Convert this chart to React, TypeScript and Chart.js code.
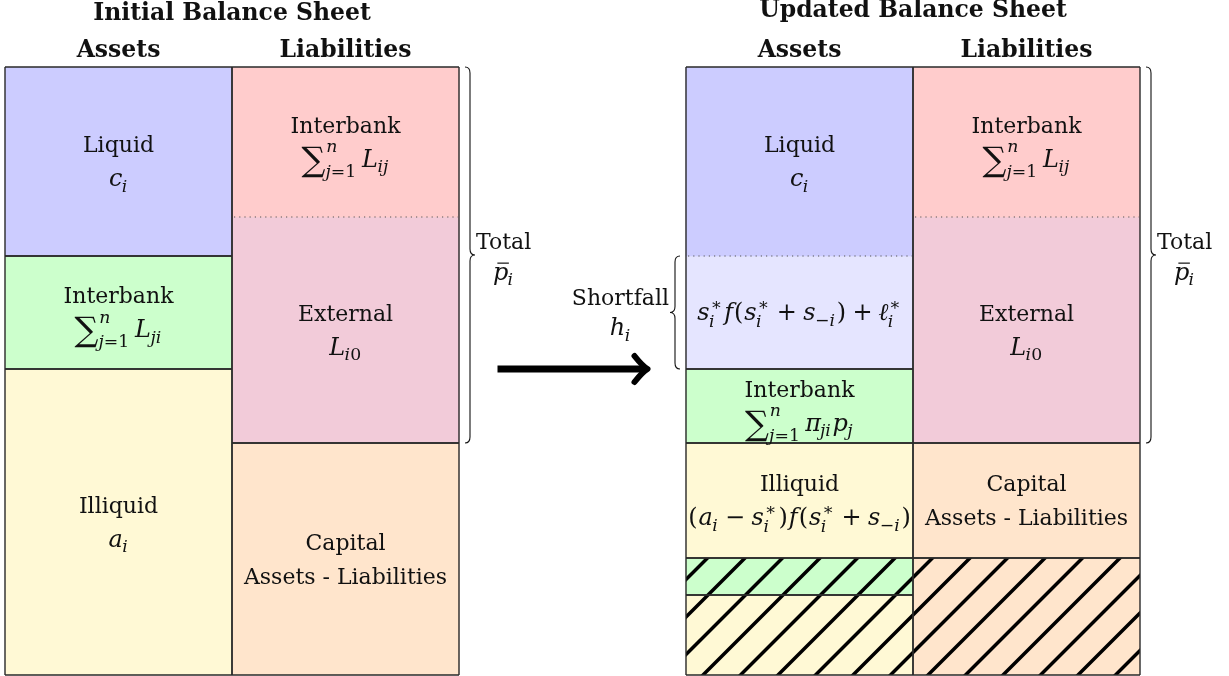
import { useEffect, useRef } from 'react';
import { Chart, registerables } from 'chart.js';

Chart.register(...registerables);

// ---------- data ----------
const columns = ['Initial assets', 'Initial liabilities', 'Adjustment', 'Updated assets', 'Updated liabilities'];
const columnHeaders = ['Assets', 'Liabilities', '', 'Assets', 'Liabilities'];
const sheetTitles = ['Initial Balance Sheet', 'Updated Balance Sheet'];

// segment sizes, top to bottom
const initialAssetValues = [189, 113, 306];
const initialLiabilityValues = [150, 226, 232];
const updatedAssetValues = [189, 113, 74, 115, 37, 80];
const updatedLiabilityValues = [150, 226, 115, 117];
const balanceTotal = 608;

const initialAssetLabels = [['Liquid', '$c_i'], ['Interbank', '$\\sum_{j=1}^{n}\\,L_{ji}'], ['Illiquid', '$a_i']];
const initialLiabilityLabels = [['Interbank', '$\\sum_{j=1}^{n}\\,L_{ij}'], ['External', '$L_{i0}'], ['Capital', 'Assets - Liabilities']];
const updatedAssetLabels = [
  ['Liquid', '$c_i'],
  ['$s_i^*f(s_i^*+s_{-i})+\\ell_i^*'],
  ['Interbank', '$\\sum_{j=1}^{n}\\,\\pi_{ji}p_j'],
  ['Illiquid', '$(a_i-s_i^*)f(s_i^*+s_{-i})'],
  [],
  [],
];
const updatedLiabilityLabels = [['Interbank', '$\\sum_{j=1}^{n}\\,L_{ij}'], ['External', '$L_{i0}'], ['Capital', 'Assets - Liabilities'], []];

const totalLabel = ['Total', '$\\bar{p}_i'];
const shortfallLabel = ['Shortfall', '$h_i'];

// ---------- styles ----------
const initialAssetColors = ['#ccccff', '#ccffcc', '#fff9d5'];
const initialLiabilityColors = ['#ffcccc', '#f2cbd9', '#ffe5cc'];
const updatedAssetColors = ['#ccccff', '#e5e5ff', '#ccffcc', '#fff9d5', '#ccffcc', '#fff9d5'];
const updatedLiabilityColors = ['#ffcccc', '#f2cbd9', '#ffe5cc', '#ffe5cc'];
const initialAssetHatch = [false, false, false];
const initialLiabilityHatch = [false, false, false];
const updatedAssetHatch = [false, false, false, false, true, true];
const updatedLiabilityHatch = [false, false, false, true];
const initialAssetDotted = [false, false, false];
const initialLiabilityDotted = [false, true, false];
const updatedAssetDotted = [false, true, false, false, false, false];
const updatedLiabilityDotted = [false, true, false, false];

const FONT = '"DejaVu Serif", "Liberation Serif", serif';
const LABEL_SIZE = 22;
const MATH_SCALE = 1.09;
const HEAD_SIZE = 23.5;
const HATCH_SPACING = 37.5;
const HATCH_PHASE = 28;

type Seg = { col: number; start: number; end: number; color: string; hatch: boolean; dotted: boolean; label: string[] };

function buildColumn(col: number, values: number[], colors: string[], labels: string[][], hatch: boolean[], dotted: boolean[]): Seg[] {
  let acc = 0;
  return values.map((v, i) => {
    const s = { col, start: acc, end: acc + v, color: colors[i], hatch: hatch[i], dotted: dotted[i], label: labels[i] };
    acc += v;
    return s;
  });
}

// ---------- tiny math text renderer ----------
type Run = { t: string; it: boolean };
type Atom =
  | { kind: 'run'; t: string; it: boolean; pad: number; bar?: boolean; big?: boolean }
  | { kind: 'script'; sub: Run[] | null; sup: Run[] | null; afterBig: boolean; afterIt: boolean }
  | { kind: 'space'; w: number };

const isLetter = (ch: string) => /[A-Za-z]/.test(ch);

function scriptRuns(g: string): Run[] {
  const out: Run[] = [];
  let i = 0;
  while (i < g.length) {
    const ch = g[i];
    if (ch === '\\') {
      let j = i + 1;
      while (j < g.length && isLetter(g[j])) j++;
      const name = g.slice(i + 1, j);
      i = j;
      if (name === 'pi') out.push({ t: 'π', it: true });
      else if (name === 'ell') out.push({ t: 'ℓ', it: true });
      continue;
    }
    i++;
    if (ch === ' ') continue;
    if (isLetter(ch)) out.push({ t: ch, it: true });
    else if (ch === '-') out.push({ t: '−', it: false });
    else if (ch === '*') out.push({ t: '∗', it: false });
    else out.push({ t: ch, it: false });
  }
  return out;
}

function parseMath(src: string): Atom[] {
  const atoms: Atom[] = [];
  let i = 0;
  const readGroup = (): string => {
    if (src[i] === '{') {
      let depth = 1;
      let j = i + 1;
      while (j < src.length && depth) {
        if (src[j] === '{') depth++;
        else if (src[j] === '}') depth--;
        j++;
      }
      const g = src.slice(i + 1, j - 1);
      i = j;
      return g;
    }
    if (src[i] === '\\') {
      let j = i + 1;
      while (j < src.length && isLetter(src[j])) j++;
      const g = src.slice(i, j);
      i = j;
      return g;
    }
    const g = src[i];
    i++;
    return g;
  };
  while (i < src.length) {
    const ch = src[i];
    if (ch === '_' || ch === '^') {
      i++;
      const runs = scriptRuns(readGroup());
      let last = atoms[atoms.length - 1] as Atom | undefined;
      if (!last || last.kind !== 'script' || (ch === '_' ? last.sub : last.sup)) {
        const prev = atoms[atoms.length - 1];
        const s: Atom = {
          kind: 'script',
          sub: null,
          sup: null,
          afterBig: !!(prev && prev.kind === 'run' && prev.big),
          afterIt: !!(prev && prev.kind === 'run' && prev.it),
        };
        atoms.push(s);
        last = s;
      }
      if (last.kind === 'script') {
        if (ch === '_') last.sub = runs;
        else last.sup = runs;
      }
      continue;
    }
    if (ch === '\\') {
      if (src[i + 1] === ',') {
        atoms.push({ kind: 'space', w: 0.17 });
        i += 2;
        continue;
      }
      let j = i + 1;
      while (j < src.length && isLetter(src[j])) j++;
      const name = src.slice(i + 1, j);
      i = j;
      if (name === 'sum') atoms.push({ kind: 'run', t: '∑', it: false, pad: 0, big: true });
      else if (name === 'ell') atoms.push({ kind: 'run', t: 'ℓ', it: true, pad: 0 });
      else if (name === 'pi') atoms.push({ kind: 'run', t: 'π', it: true, pad: 0 });
      else if (name === 'bar') {
        const g = readGroup();
        atoms.push({ kind: 'run', t: g, it: true, pad: 0, bar: true });
      }
      continue;
    }
    i++;
    if (ch === ' ') continue;
    if (isLetter(ch)) atoms.push({ kind: 'run', t: ch, it: true, pad: 0.02 });
    else if (ch === '+') atoms.push({ kind: 'run', t: '+', it: false, pad: 0.25 });
    else if (ch === '-') atoms.push({ kind: 'run', t: '−', it: false, pad: 0.25 });
    else if (ch === '=') atoms.push({ kind: 'run', t: '=', it: false, pad: 0.28 });
    else atoms.push({ kind: 'run', t: ch, it: false, pad: 0.02 });
  }
  return atoms;
}

const font = (size: number, it: boolean, bold = false) => `${it ? 'italic ' : ''}${bold ? 'bold ' : ''}${size}px ${FONT}`;

function runsWidth(ctx: CanvasRenderingContext2D, runs: Run[], size: number) {
  let w = 0;
  for (const r of runs) {
    ctx.font = font(size, r.it);
    w += ctx.measureText(r.t).width;
  }
  return w;
}

function drawRuns(ctx: CanvasRenderingContext2D, runs: Run[], x: number, y: number, size: number) {
  for (const r of runs) {
    ctx.font = font(size, r.it);
    ctx.fillText(r.t, x, y);
    x += ctx.measureText(r.t).width;
  }
}

function layoutMath(ctx: CanvasRenderingContext2D, atoms: Atom[], size: number, x0: number, baseline: number, draw: boolean) {
  let x = x0;
  for (const a of atoms) {
    if (a.kind === 'space') {
      x += a.w * size;
      continue;
    }
    if (a.kind === 'run') {
      const sz = a.big ? size * 1.4 : size;
      ctx.font = font(sz, a.it);
      const w = ctx.measureText(a.t).width;
      x += a.pad * size;
      if (draw) {
        ctx.fillText(a.t, x, baseline + (a.big ? 0.16 * size : 0));
        if (a.bar) {
          ctx.save();
          ctx.strokeStyle = '#111';
          ctx.lineWidth = 1.2;
          ctx.beginPath();
          ctx.moveTo(x + 0.18 * size, baseline - 0.7 * size);
          ctx.lineTo(x + w + 0.02 * size, baseline - 0.7 * size);
          ctx.stroke();
          ctx.restore();
        }
      }
      x += w + a.pad * size;
      continue;
    }
    const ss = size * 0.72;
    const kernSub = a.afterIt ? -0.04 * size : 0;
    const subDy = a.afterBig ? 0.42 * size : a.sup ? 0.28 * size : 0.22 * size;
    const supDy = a.afterBig ? -0.62 * size : -0.42 * size;
    const ws = a.sub ? runsWidth(ctx, a.sub, ss) : 0;
    const wp = a.sup ? runsWidth(ctx, a.sup, ss) : 0;
    if (draw) {
      if (a.sub) drawRuns(ctx, a.sub, x + kernSub, baseline + subDy, ss);
      if (a.sup) drawRuns(ctx, a.sup, x + 0.03 * size, baseline + supDy, ss);
    }
    x += Math.max(ws + kernSub, wp + 0.03 * size) + 0.05 * size;
  }
  return x - x0;
}

function lineWidthOf(ctx: CanvasRenderingContext2D, line: string, size: number) {
  if (line.startsWith('$')) return layoutMath(ctx, parseMath(line.slice(1)), size * MATH_SCALE, 0, 0, false);
  ctx.font = font(size, false);
  return ctx.measureText(line).width;
}

function drawLine(ctx: CanvasRenderingContext2D, line: string, cx: number, cy: number, size: number) {
  ctx.fillStyle = '#111';
  ctx.textAlign = 'left';
  ctx.textBaseline = 'alphabetic';
  const baseline = cy + 0.36 * size;
  const w = lineWidthOf(ctx, line, size);
  if (line.startsWith('$')) layoutMath(ctx, parseMath(line.slice(1)), size * MATH_SCALE, cx - w / 2, baseline, true);
  else {
    ctx.font = font(size, false);
    ctx.fillText(line, cx - w / 2, baseline);
  }
}

function drawBlock(ctx: CanvasRenderingContext2D, lines: string[], cx: number, cy: number, size: number, gap: number) {
  const n = lines.length;
  lines.forEach((l, k) => drawLine(ctx, l, cx, cy + (k - (n - 1) / 2) * gap, size));
}

function brace(ctx: CanvasRenderingContext2D, x0: number, y1: number, y2: number, dir: number) {
  const ym = (y1 + y2) / 2;
  const a = 5 * dir;
  ctx.beginPath();
  ctx.moveTo(x0, y1);
  ctx.quadraticCurveTo(x0 + a, y1, x0 + a, y1 + 6);
  ctx.lineTo(x0 + a, ym - 6);
  ctx.quadraticCurveTo(x0 + a, ym, x0 + 2 * a, ym);
  ctx.quadraticCurveTo(x0 + a, ym, x0 + a, ym + 6);
  ctx.lineTo(x0 + a, y2 - 6);
  ctx.quadraticCurveTo(x0 + a, y2, x0, y2);
  ctx.stroke();
}

function hatchRect(ctx: CanvasRenderingContext2D, l: number, t: number, r: number, b: number) {
  ctx.save();
  ctx.beginPath();
  ctx.rect(l, t, r - l, b - t);
  ctx.clip();
  ctx.strokeStyle = '#000';
  ctx.lineWidth = 3.5;
  ctx.beginPath();
  const kMin = Math.floor((l + t - HATCH_PHASE) / HATCH_SPACING) - 1;
  const kMax = Math.ceil((r + b - HATCH_PHASE) / HATCH_SPACING) + 1;
  for (let k = kMin; k <= kMax; k++) {
    const s = HATCH_PHASE + k * HATCH_SPACING; // x + y = s
    ctx.moveTo(l - 10, s - (l - 10));
    ctx.lineTo(r + 10, s - (r + 10));
  }
  ctx.stroke();
  ctx.restore();
}

export default function App() {
  const ref = useRef<HTMLCanvasElement>(null);

  useEffect(() => {
    document.body.style.margin = '0';
    const canvas = ref.current!;

    const segs: Seg[] = [
      ...buildColumn(0, initialAssetValues, initialAssetColors, initialAssetLabels, initialAssetHatch, initialAssetDotted),
      ...buildColumn(1, initialLiabilityValues, initialLiabilityColors, initialLiabilityLabels, initialLiabilityHatch, initialLiabilityDotted),
      ...buildColumn(3, updatedAssetValues, updatedAssetColors, updatedAssetLabels, updatedAssetHatch, updatedAssetDotted),
      ...buildColumn(4, updatedLiabilityValues, updatedLiabilityColors, updatedLiabilityLabels, updatedLiabilityHatch, updatedLiabilityDotted),
    ];

    const datasets = segs.map((s, i) => ({
      label: `segment ${i}`,
      data: columns.map((_, c) => (c === s.col ? [s.start, s.end] : null)),
      backgroundColor: s.color,
      borderWidth: 0,
      grouped: false,
      barPercentage: 1,
      categoryPercentage: 1,
    }));

    const overlay = {
      id: 'balanceOverlay',
      afterDatasetsDraw(chart: any) {
        const c: CanvasRenderingContext2D = chart.ctx;
        const xs = chart.scales.x;
        const ys = chart.scales.y;
        const rects = segs.map((s, i) => {
          const el = chart.getDatasetMeta(i).data[s.col];
          const p = el.getProps(['x', 'y', 'base', 'width'], true);
          return { l: p.x - p.width / 2, r: p.x + p.width / 2, t: Math.min(p.y, p.base), b: Math.max(p.y, p.base) };
        });
        c.save();
        // hatching
        segs.forEach((s, i) => {
          if (!s.hatch) return;
          const R = rects[i];
          hatchRect(c, R.l, R.t, R.r, R.b);
        });
        // outlines
        c.strokeStyle = '#2a2a2a';
        c.lineWidth = 1.4;
        segs.forEach((s, i) => {
          const R = rects[i];
          const next = segs[i + 1];
          const nextDotted = next && next.col === s.col && next.dotted;
          c.beginPath();
          c.moveTo(R.l, R.t);
          c.lineTo(R.l, R.b);
          c.moveTo(R.r, R.t);
          c.lineTo(R.r, R.b);
          if (!s.dotted) {
            c.moveTo(R.l, R.t);
            c.lineTo(R.r, R.t);
          }
          if (!nextDotted) {
            c.moveTo(R.l, R.b);
            c.lineTo(R.r, R.b);
          }
          c.stroke();
        });
        // dotted separators
        c.setLineDash([1.2, 4]);
        c.strokeStyle = '#555';
        c.lineWidth = 1.1;
        segs.forEach((s, i) => {
          if (!s.dotted) return;
          const R = rects[i];
          c.beginPath();
          c.moveTo(R.l + 2, R.t);
          c.lineTo(R.r - 1, R.t);
          c.stroke();
        });
        c.setLineDash([]);

        // segment labels
        segs.forEach((s, i) => {
          if (!s.label.length) return;
          const R = rects[i];
          drawBlock(c, s.label, (R.l + R.r) / 2, (R.t + R.b) / 2, LABEL_SIZE, 34);
        });

        // headings
        const colW = xs.width / columns.length;
        c.fillStyle = '#111';
        c.textAlign = 'center';
        c.textBaseline = 'alphabetic';
        c.font = font(HEAD_SIZE, false, true);
        columnHeaders.forEach((h, k) => {
          if (!h) return;
          c.fillText(h, xs.getPixelForValue(k), ys.top - 10);
        });
        c.fillText(sheetTitles[0], (xs.getPixelForValue(0) + xs.getPixelForValue(1)) / 2, ys.top - 47);
        c.fillText(sheetTitles[1], (xs.getPixelForValue(3) + xs.getPixelForValue(4)) / 2, ys.top - 50);

        // braces for total liabilities
        c.strokeStyle = '#111';
        c.lineWidth = 1.1;
        const liabTopValue = 0;
        const liabBottomValue = initialLiabilityValues[0] + initialLiabilityValues[1];
        const y1 = ys.getPixelForValue(liabTopValue);
        const y2 = ys.getPixelForValue(liabBottomValue);
        const ymid = (y1 + y2) / 2;
        [1, 4].forEach((col) => {
          const xr = xs.getPixelForValue(col) + colW / 2;
          const x0 = xr + 6;
          brace(c, x0, y1, y2, 1);
          const w = Math.max(...totalLabel.map((l) => lineWidthOf(c, l, LABEL_SIZE)));
          const cx = x0 + 11 + w / 2;
          drawLine(c, totalLabel[0], cx, ymid - 14, LABEL_SIZE);
          drawLine(c, totalLabel[1], cx, ymid + 17, LABEL_SIZE);
        });

        // shortfall brace
        const sf1 = ys.getPixelForValue(updatedAssetValues[0]);
        const sf2 = ys.getPixelForValue(updatedAssetValues[0] + updatedAssetValues[1]);
        const sfm = (sf1 + sf2) / 2;
        const xl = xs.getPixelForValue(3) - colW / 2;
        c.strokeStyle = '#111';
        c.lineWidth = 1.1;
        brace(c, xl - 6, sf1, sf2, -1);
        const ws = Math.max(...shortfallLabel.map((l) => lineWidthOf(c, l, LABEL_SIZE)));
        const scx = xl - 6 - 11 - ws / 2;
        drawLine(c, shortfallLabel[0], scx, sfm - 15, LABEL_SIZE);
        drawLine(c, shortfallLabel[1], scx, sfm + 15, LABEL_SIZE);

        // arrow
        const ay = ys.getPixelForValue(initialAssetValues[0] + initialAssetValues[1]);
        const acx = xs.getPixelForValue(2);
        const ax1 = acx - 75;
        const ax2 = acx + 75;
        c.strokeStyle = '#000';
        c.lineWidth = 7;
        c.lineCap = 'butt';
        c.beginPath();
        c.moveTo(ax1, ay);
        c.lineTo(ax2 - 3, ay);
        c.stroke();
        c.lineCap = 'round';
        c.lineJoin = 'round';
        c.lineWidth = 6;
        c.beginPath();
        c.moveTo(ax2 - 13, ay - 13);
        c.quadraticCurveTo(ax2 - 5, ay - 3, ax2, ay);
        c.quadraticCurveTo(ax2 - 5, ay + 3, ax2 - 13, ay + 13);
        c.stroke();
        c.restore();
      },
    };

    const chart = new Chart(canvas, {
      type: 'bar',
      data: { labels: columns, datasets: datasets as any },
      options: {
        animation: false,
        responsive: false,
        devicePixelRatio: 1,
        layout: { padding: { left: 5, right: 89, top: 67, bottom: 1 } },
        plugins: { legend: { display: false }, tooltip: { enabled: false }, title: { display: false } },
        scales: {
          x: { type: 'category', display: false, offset: true, grid: { display: false } },
          y: { type: 'linear', display: false, min: 0, max: balanceTotal, reverse: true },
        },
      },
      plugins: [overlay],
    });
    return () => chart.destroy();
  }, []);

  return <canvas ref={ref} width={1229} height={676} style={{ display: 'block', background: '#fff' }} />;
}
